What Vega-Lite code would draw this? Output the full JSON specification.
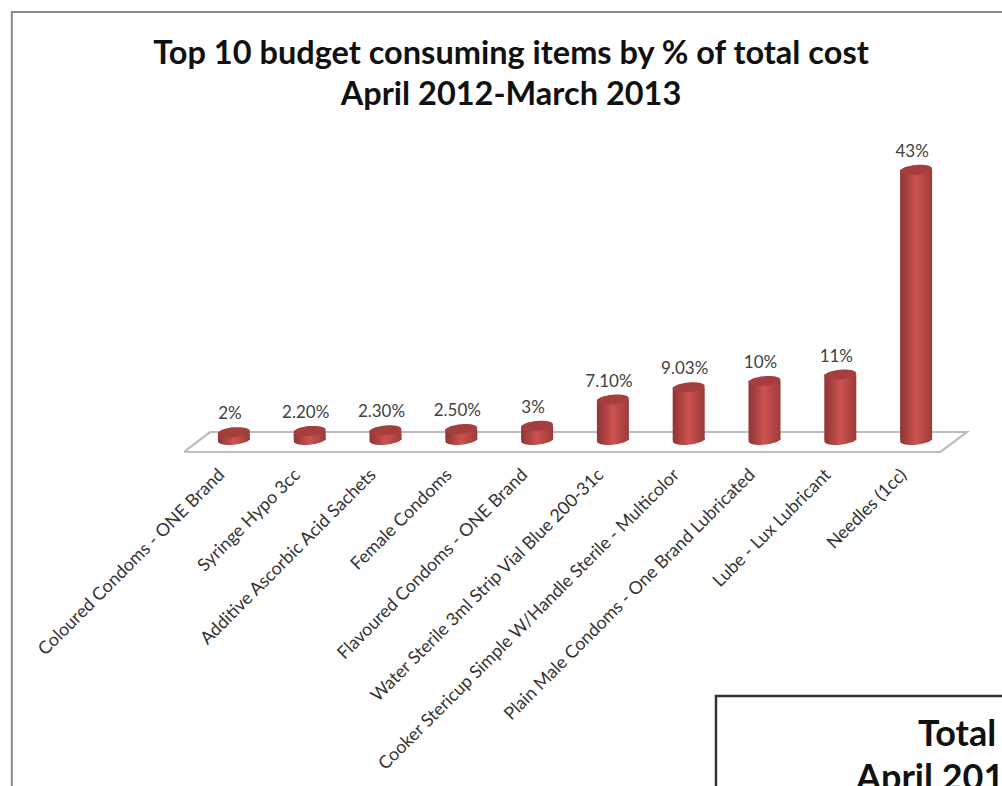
{
"$schema":"https://vega.github.io/schema/vega-lite/v6.json",
"width":758,"height":288,
"autosize":{"type":"none"},
"padding":{"left":196,"top":157,"right":48,"bottom":341},
"background":"white",
"config":{"view":{"stroke":null},"font":"Lato"},
"title":{"text":["Top 10 budget consuming items by % of total cost","April 2012-March 2013"],"font":"Lato","fontWeight":"bold","fontSize":32.5,"lineHeight":41,"color":"#111111","anchor":"middle","dx":-64,"offset":-104},
"datasets":{
"items":[
{"item":"Coloured Condoms - ONE Brand","pct":2,"label":"2%"},
{"item":"Syringe Hypo 3cc","pct":2.2,"label":"2.20%"},
{"item":"Additive Ascorbic Acid Sachets","pct":2.3,"label":"2.30%"},
{"item":"Female Condoms","pct":2.5,"label":"2.50%"},
{"item":"Flavoured Condoms - ONE Brand","pct":3,"label":"3%"},
{"item":"Water Sterile 3ml Strip Vial Blue 200-31c","pct":7.1,"label":"7.10%"},
{"item":"Cooker Stericup Simple W/Handle Sterile - Multicolor","pct":9.03,"label":"9.03%"},
{"item":"Plain Male Condoms - One Brand Lubricated","pct":10,"label":"10%"},
{"item":"Lube - Lux Lubricant","pct":11,"label":"11%"},
{"item":"Needles (1cc)","pct":43,"label":"43%"}
],
"floor":[
{"pos":-0.158,"val":-1.09,"k":0},{"pos":0.185,"val":2.03,"k":1},{"pos":10.17,"val":2.03,"k":2},{"pos":9.82,"val":-1.09,"k":3},{"pos":-0.158,"val":-1.09,"k":4}
],
"frame":[
{"pos":-2.43,"val":-56,"k":0},{"pos":-2.43,"val":67.66,"k":1},{"pos":10.8,"val":67.66,"k":2}
],
"inset":[{"pos":6.86,"pos2":10.9,"val":-39.2,"val2":-60}],
"insetText":[
{"pos":9.525,"val":-47,"t":"Total"},
{"pos":8.707,"val":-53.9,"t":"April 2012-March 2013"}
]
},
"resolve":{"scale":{"x":"independent"},"axis":{"x":"independent"}},
"layer":[
{"layer":[
{"data":{"name":"frame"},"mark":{"type":"line","stroke":"#8a8a8a","strokeWidth":2,"clip":false},
"encoding":{"x":{"field":"pos","type":"quantitative","scale":{"domain":[0,10],"nice":false,"zero":false},"axis":null},
"y":{"field":"val","type":"quantitative","scale":{"domain":[0,45],"nice":false,"zero":false},"axis":null},
"order":{"field":"k","type":"ordinal"}}},
{"data":{"name":"floor"},"mark":{"type":"line","stroke":"#bdbdbd","strokeWidth":2.2,"clip":false},
"encoding":{"x":{"field":"pos","type":"quantitative"},"y":{"field":"val","type":"quantitative"},"order":{"field":"k","type":"ordinal"}}}
]},
{"data":{"name":"items"},"layer":[
{"mark":{"type":"bar","size":32,"fill":{"x1":0,"x2":1,"y1":0,"y2":0,"gradient":"linear","stops":[{"offset":0,"color":"#8e3533"},{"offset":0.5,"color":"#cc5250"},{"offset":1,"color":"#9c3b39"}]}},
"encoding":{"x":{"field":"item","type":"nominal","sort":null,"scale":{"paddingInner":0,"paddingOuter":0},
"axis":{"orient":"bottom","title":null,"domain":false,"ticks":false,"labelAngle":-45,"labelAlign":"right","labelBaseline":"middle","labelPadding":27,"labelOffset":-12,"labelFontSize":17.8,"labelColor":"#333333","labelFont":"Lato","labelLimit":600,"labelOverlap":false,"labelFlush":false,"grid":false}},
"y":{"field":"pct","type":"quantitative"},
"y2":{"datum":0.8}}},
{"mark":{"type":"point","filled":true,"opacity":1,"size":1024,"shape":"M-1,0.08A1,0.3 -5 1 1 1,-0.08A1,0.3 -5 1 1 -1,0.08Z","fill":{"x1":0,"x2":1,"y1":0,"y2":0,"gradient":"linear","stops":[{"offset":0,"color":"#8e3533"},{"offset":0.5,"color":"#cc5250"},{"offset":1,"color":"#9c3b39"}]}},
"encoding":{"x":{"field":"item","type":"nominal","sort":null},"y":{"datum":0.8}}},
{"mark":{"type":"point","filled":true,"opacity":1,"size":1024,"shape":"M-1,0.08A1,0.3 -5 1 1 1,-0.08A1,0.3 -5 1 1 -1,0.08Z","fill":"#a53f3d"},
"encoding":{"x":{"field":"item","type":"nominal","sort":null},"y":{"field":"pct","type":"quantitative"}}},
{"mark":{"type":"text","fontSize":17,"color":"#404040","baseline":"middle","dy":-18,"dx":-4,"font":"Lato"},
"encoding":{"x":{"field":"item","type":"nominal","sort":null},"y":{"field":"pct","type":"quantitative"},"text":{"field":"label"}}}
]},
{"layer":[
{"data":{"name":"inset"},"mark":{"type":"rect","fill":"white","stroke":"#333333","strokeWidth":2.5,"clip":false},
"encoding":{"x":{"field":"pos","type":"quantitative","scale":{"domain":[0,10],"nice":false,"zero":false},"axis":null},"x2":{"field":"pos2"},"y":{"field":"val","type":"quantitative"},"y2":{"field":"val2"}}},
{"data":{"name":"insetText"},"mark":{"type":"text","align":"left","baseline":"alphabetic","fontSize":36,"fontWeight":"bold","color":"#111111","font":"Lato"},
"encoding":{"x":{"field":"pos","type":"quantitative"},"y":{"field":"val","type":"quantitative"},"text":{"field":"t"}}}
]}
]
}
